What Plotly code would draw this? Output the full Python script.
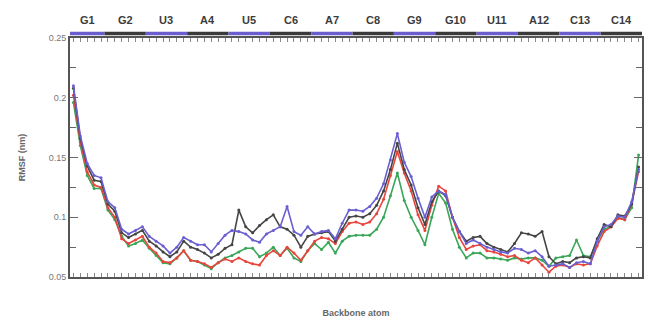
import plotly.graph_objects as go

residues = ["G1", "G2", "U3", "A4", "U5", "C6", "A7", "C8", "G9", "G10", "U11", "A12", "C13", "C14"]
atoms_per_residue = [5, 6, 6, 6, 6, 6, 6, 6, 6, 6, 6, 6, 6, 6]
band_colors = ["#6b5fd0", "#3a3a3a"]

rmsf_blue = [0.210, 0.168, 0.145, 0.135, 0.133, 0.113, 0.108, 0.090, 0.086, 0.089,
             0.092, 0.084, 0.080, 0.076, 0.070, 0.075, 0.083, 0.080, 0.077, 0.077,
             0.071, 0.078, 0.085, 0.089, 0.088, 0.086, 0.081, 0.079, 0.086, 0.089,
             0.092, 0.109, 0.088, 0.085, 0.092, 0.086, 0.088, 0.089, 0.082, 0.095,
             0.106, 0.106, 0.105, 0.109, 0.116, 0.128, 0.148, 0.170, 0.146, 0.134,
             0.116, 0.100, 0.117, 0.122, 0.119, 0.100, 0.088, 0.078, 0.081, 0.078,
             0.075, 0.073, 0.071, 0.070, 0.074, 0.073, 0.070, 0.072, 0.067, 0.059,
             0.060, 0.061, 0.058, 0.062, 0.063, 0.061, 0.080, 0.092, 0.094, 0.101,
             0.100, 0.113, 0.140]
rmsf_black = [0.208, 0.166, 0.143, 0.131, 0.130, 0.111, 0.105, 0.087, 0.083, 0.086,
              0.089, 0.080, 0.076, 0.071, 0.067, 0.071, 0.080, 0.075, 0.073, 0.070,
              0.066, 0.069, 0.074, 0.077, 0.106, 0.092, 0.087, 0.093, 0.098, 0.102,
              0.092, 0.090, 0.085, 0.075, 0.084, 0.086, 0.087, 0.088, 0.080, 0.090,
              0.100, 0.101, 0.100, 0.103, 0.110, 0.122, 0.140, 0.162, 0.140, 0.127,
              0.108, 0.094, 0.113, 0.122, 0.118, 0.100, 0.088, 0.080, 0.083, 0.084,
              0.078, 0.075, 0.073, 0.071, 0.078, 0.087, 0.086, 0.084, 0.088, 0.067,
              0.061, 0.063, 0.062, 0.066, 0.067, 0.066, 0.082, 0.094, 0.092, 0.102,
              0.101, 0.111, 0.142]
rmsf_red = [0.202, 0.163, 0.138, 0.127, 0.125, 0.108, 0.100, 0.082, 0.078, 0.081,
            0.084, 0.075, 0.070, 0.063, 0.062, 0.066, 0.072, 0.064, 0.063, 0.061,
            0.058, 0.062, 0.065, 0.063, 0.066, 0.063, 0.061, 0.060, 0.068, 0.072,
            0.068, 0.075, 0.070, 0.064, 0.072, 0.080, 0.083, 0.082, 0.078, 0.088,
            0.095, 0.096, 0.094, 0.096, 0.103, 0.115, 0.135, 0.155, 0.137, 0.122,
            0.102, 0.089, 0.110, 0.126, 0.122, 0.100, 0.083, 0.073, 0.076, 0.077,
            0.072, 0.071, 0.069, 0.067, 0.068, 0.064, 0.062, 0.066, 0.060, 0.054,
            0.059, 0.060, 0.058, 0.061, 0.060, 0.061, 0.076, 0.088, 0.092, 0.099,
            0.098, 0.111, 0.138]
rmsf_green = [0.196, 0.160, 0.135, 0.124, 0.124, 0.106, 0.098, 0.084, 0.076, 0.078,
              0.081, 0.074, 0.068, 0.062, 0.061, 0.066, 0.072, 0.064, 0.063, 0.060,
              0.057, 0.062, 0.066, 0.068, 0.071, 0.074, 0.074, 0.067, 0.070, 0.075,
              0.068, 0.074, 0.066, 0.063, 0.072, 0.078, 0.073, 0.079, 0.070, 0.080,
              0.084, 0.085, 0.085, 0.085, 0.090, 0.100, 0.118, 0.137, 0.114, 0.100,
              0.089, 0.077, 0.100, 0.120, 0.112, 0.090, 0.075, 0.066, 0.070, 0.070,
              0.066, 0.066, 0.065, 0.064, 0.066, 0.065, 0.066, 0.066, 0.064, 0.059,
              0.066, 0.067, 0.068, 0.081, 0.068, 0.067, 0.080, 0.090, 0.092, 0.100,
              0.098, 0.108, 0.152]

y_ticks = [0.05, 0.1, 0.15, 0.2, 0.25]
y_tick_text = ["0.05", "0.1", "0.15", "0.2", "0.25"]

n_atoms = sum(atoms_per_residue)
atoms = list(range(1, n_atoms + 1))

series = [
    (rmsf_green, "#3aa657"),
    (rmsf_red, "#e8463c"),
    (rmsf_black, "#454545"),
    (rmsf_blue, "#6a5fd2"),
]

fig = go.Figure()
for vals, col in series:
    fig.add_trace(go.Scatter(
        x=atoms[:len(vals)], y=vals, mode="lines+markers",
        line=dict(color=col, width=1.6),
        marker=dict(color=col, size=3),
        showlegend=False,
    ))

# residue band and labels on top
start = 0.5
for i, (res, n) in enumerate(zip(residues, atoms_per_residue)):
    end = start + n
    fig.add_shape(type="rect", xref="x", yref="paper",
                  x0=start, x1=end, y0=1.012, y1=1.026,
                  fillcolor=band_colors[i % 2], line=dict(width=0), layer="above")
    fig.add_annotation(x=(start + end) / 2, xref="x", y=1.04, yref="paper",
                       text="<b>" + res + "</b>", showarrow=False, yanchor="bottom",
                       font=dict(family="Liberation Sans, Arial", size=11, color="#3c3c3c"))
    start = end

fig.update_xaxes(
    range=[0.5, n_atoms + 0.5],
    showline=True, linecolor="#555", linewidth=2, mirror="ticks",
    tickvals=atoms, ticks="inside", ticklen=4, tickcolor="#888", tickwidth=1,
    showticklabels=False, showgrid=False, zeroline=False,
    title=dict(text="<b>Backbone atom</b>", standoff=32,
               font=dict(family="Liberation Sans, Arial", size=9, color="#666")),
)
fig.update_yaxes(
    range=[0.05, 0.25],
    showline=True, linecolor="#555", linewidth=2, mirror="ticks",
    tickvals=y_ticks, ticktext=y_tick_text, ticks="inside", ticklen=8,
    tickcolor="#666", tickwidth=1,
    minor=dict(dtick=0.025, tick0=0.05, ticks="inside", ticklen=6, tickcolor="#666"),
    showgrid=False, zeroline=False,
    tickfont=dict(family="Liberation Sans, Arial", size=9, color="#777"),
    title=dict(text="<b>RMSF (nm)</b>", standoff=22,
               font=dict(family="Liberation Sans, Arial", size=9, color="#666")),
)

fig.update_layout(
    width=648, height=324,
    margin=dict(l=70, r=4, t=38, b=47),
    paper_bgcolor="white", plot_bgcolor="white",
)

fig.write_html("out.html", config={"displayModeBar": False},
               post_script="document.body.style.margin='0';document.body.style.overflow='hidden';")
